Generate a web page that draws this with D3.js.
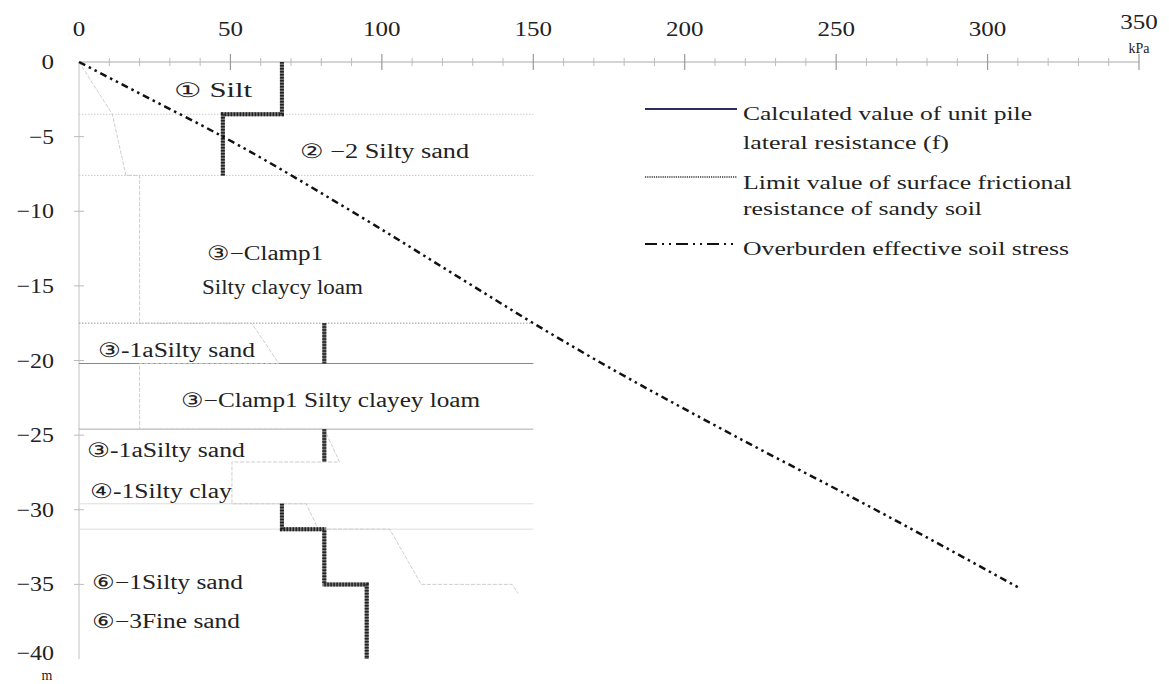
<!DOCTYPE html>
<html>
<head>
<meta charset="utf-8">
<script src="https://cdn.jsdelivr.net/npm/d3@7"></script>
<style>
  body { margin: 0; background: #fff; }
  svg { display: block; }
  text { font-family: "Liberation Serif", "Times New Roman", serif; fill: #222; }
</style>
</head>
<body>
<svg id="chart" width="1169" height="684"></svg>
<script>
// ---- data ----
const xTicks = [0, 50, 100, 150, 200, 250, 300, 350];           // kPa
const xMinorTicks = [10, 20, 30, 40, 60, 70, 80, 90, 110, 120, 130, 140, 160, 170, 180, 190,
                     210, 220, 230, 240, 260, 270, 280, 290, 310, 320, 330, 340];
const yTicks = [0, -5, -10, -15, -20, -25, -30, -35, -40];       // m

// soil layer boundaries (m)
const layerBoundaries = [-3.5, -7.6, -17.5, -20.2, -24.6, -29.6, -31.3];

// overburden effective soil stress
const stressDepth = [0, -2, -5, -10, -15, -17.5, -20, -25, -30, -35.3];
const stressValue = [0, 19, 47.5, 90, 130, 150, 171, 216, 263, 311];

// limit value of surface frictional resistance of sandy soil, per sand layer: [kPa, m]
const limitRuns = [
  [[67, 0], [67, -3.5], [47.5, -3.5], [47.5, -7.6]],
  [[81, -17.5], [81, -20.2]],
  [[81, -24.6], [81, -26.8]],
  [[67, -29.6], [67, -31.3], [81, -31.3], [81, -35], [95, -35], [95, -40]]
];

// calculated value of unit pile lateral resistance f: [kPa, m]
const calcPoints = [
  [0, 0], [11, -3.5], [15.5, -7.6], [20, -7.6], [20, -17.5], [57, -17.5], [66, -20.2],
  [20, -20.2], [20, -24.6], [81, -24.6], [86, -26.8], [50.5, -26.8], [50.5, -29.6],
  [75, -29.6], [79, -31.3], [102.6, -31.3], [113, -35], [143, -35], [145, -35.6]
];

// soil layer names and their anchors [kPa, m]
const layerNames = [
  "① Silt", "② −2 Silty sand", "③−Clamp1", "Silty claycy loam", "③-1aSilty sand",
  "③−Clamp1 Silty clayey loam", "③-1aSilty sand", "④-1Silty clay", "⑥−1Silty sand", "⑥−3Fine sand"
];
const layerNameAt = [
  [31.4, -1.9], [73, -5.97], [42.3, -12.8], [40.6, -15.1], [6.3, -19.3],
  [33.7, -22.65], [2.6, -26.0], [3.6, -28.75], [4.3, -34.85], [4.3, -37.45]
];

const legendLabels = [
  ["Calculated value of unit pile", "lateral resistance (f)"],
  ["Limit value of surface frictional", "resistance of sandy soil"],
  ["Overburden effective soil stress"]
];

// ---- layout ----
const svg = d3.select("#chart");
const x = d3.scaleLinear().domain([0, 350]).range([79, 1139]);
const y = d3.scaleLinear().domain([0, -40]).range([62, 659]);
const xMax = 150; // layer lines run to this stress

// text widths of the printed labels (px)
const layerNameWidth = [78, 169, 116, 161, 157, 299, 158, 142, 151, 148];
const legendWidth = [[289, 206], [329, 239], [326]];

// ---- top axis ----
const axisG = svg.append("g").attr("transform", `translate(0,${y(0)})`);
axisG.append("line").attr("x1", x(0)).attr("x2", x(350)).attr("y1", 0).attr("y2", 0)
  .attr("stroke", "#aaa").attr("stroke-width", 1.2);
axisG.selectAll("line.minor").data(xMinorTicks).join("line")
  .attr("class", "minor")
  .attr("x1", d => x(d)).attr("x2", d => x(d)).attr("y1", -4).attr("y2", 4)
  .attr("stroke", "#bbb").attr("stroke-width", 1);
axisG.selectAll("line.major").data(xTicks.filter(d => d > 0)).join("line")
  .attr("class", "major")
  .attr("x1", d => x(d)).attr("x2", d => x(d)).attr("y1", -8).attr("y2", 8)
  .attr("stroke", "#999").attr("stroke-width", 1.2);
axisG.selectAll("text.xl").data(xTicks).join("text")
  .attr("class", "xl")
  .attr("x", d => x(d)).attr("y", d => d === 350 ? -40 : -33)
  .attr("text-anchor", "middle").attr("dominant-baseline", "central")
  .attr("font-size", 21)
  .attr("textLength", d => String(d).length * 12.5).attr("lengthAdjust", "spacingAndGlyphs")
  .text(d => d);
svg.append("text").attr("x", x(350)).attr("y", 48)
  .attr("text-anchor", "middle").attr("dominant-baseline", "central")
  .attr("font-size", 14).text("kPa");

// ---- left axis ----
const yAxisG = svg.append("g");
yAxisG.append("line").attr("x1", x(0)).attr("x2", x(0)).attr("y1", y(0)).attr("y2", y(-40))
  .attr("stroke", "#ccc").attr("stroke-width", 1.2);
yAxisG.selectAll("line.yt").data(yTicks.filter(d => d < 0 && d > -40)).join("line")
  .attr("class", "yt")
  .attr("x1", x(0) - 5).attr("x2", x(0) + 5).attr("y1", d => y(d)).attr("y2", d => y(d))
  .attr("stroke", "#bbb");
yAxisG.selectAll("text.yl").data(yTicks).join("text")
  .attr("class", "yl")
  .attr("x", 54).attr("y", d => y(d) - (d === -40 ? 6 : 0))
  .attr("text-anchor", "end").attr("dominant-baseline", "central")
  .attr("font-size", 21)
  .attr("textLength", d => d3.format("")(d).length * 12.5).attr("lengthAdjust", "spacingAndGlyphs")
  .text(d => d3.format("")(d));
svg.append("text").attr("x", 47).attr("y", 675)
  .attr("text-anchor", "middle").attr("dominant-baseline", "central")
  .attr("font-size", 14).text("m");

// ---- layer boundaries ----
const boundaryStyle = [
  { c: "#ccc", d: "1.5,1.5", w: 1 },
  { c: "#ccc", d: "1.5,1.5", w: 1 },
  { c: "#999", d: "1.5,1.5", w: 1 },
  { c: "#888", d: null, w: 1 },
  { c: "#aaa", d: null, w: 1 },
  { c: "#ddd", d: null, w: 1 },
  { c: "#ddd", d: null, w: 1 }
];
svg.append("g").selectAll("line").data(layerBoundaries).join("line")
  .attr("x1", x(0)).attr("x2", x(xMax))
  .attr("y1", d => y(d)).attr("y2", d => y(d))
  .attr("stroke", (d, i) => boundaryStyle[i].c)
  .attr("stroke-width", (d, i) => boundaryStyle[i].w)
  .attr("stroke-dasharray", (d, i) => boundaryStyle[i].d);

const line = d3.line().x(d => x(d[0])).y(d => y(d[1]));

// ---- calculated unit pile lateral resistance ----
svg.append("path").datum(calcPoints)
  .attr("d", line).attr("fill", "none")
  .attr("stroke", "#c8c8c8").attr("stroke-width", 0.9)
  .attr("stroke-dasharray", "4,1.5");

// ---- limit values for sandy soil ----
const limitG = svg.append("g");
limitG.selectAll("path.base").data(limitRuns).join("path")
  .attr("class", "base").attr("d", line).attr("fill", "none")
  .attr("stroke", "#777").attr("stroke-width", 4);
limitG.selectAll("path.top").data(limitRuns).join("path")
  .attr("class", "top").attr("d", line).attr("fill", "none")
  .attr("stroke", "#222").attr("stroke-width", 4).attr("stroke-dasharray", "1.5,1.5");

// ---- overburden effective soil stress ----
svg.append("path").datum(stressValue.map((v, i) => [v, stressDepth[i]]))
  .attr("d", d3.line().x(d => x(d[0])).y(d => y(d[1])).curve(d3.curveMonotoneY))
  .attr("fill", "none").attr("stroke", "#111").attr("stroke-width", 2.5)
  .attr("stroke-dasharray", "7,4,2.5,4,2.5,4");

// ---- layer names ----
svg.append("g").selectAll("text").data(layerNames).join("text")
  .attr("x", (d, i) => x(layerNameAt[i][0]))
  .attr("y", (d, i) => y(layerNameAt[i][1]))
  .attr("dominant-baseline", "central")
  .attr("font-size", 20)
  .attr("textLength", (d, i) => layerNameWidth[i]).attr("lengthAdjust", "spacingAndGlyphs")
  .text(d => d);

// ---- legend ----
const legend = svg.append("g");
const legendRowY = [109, 177, 244];
const legendTextY = [[113, 142], [182, 208], [248]];
const sample = (g, i) => {
  const ln = g.append("line").attr("x1", 645).attr("x2", 737)
    .attr("y1", legendRowY[i]).attr("y2", legendRowY[i]).attr("fill", "none");
  if (i === 0) ln.attr("stroke", "#2e2e5e").attr("stroke-width", 2);
  if (i === 1) ln.attr("stroke", "#333").attr("stroke-width", 1.6).attr("stroke-dasharray", "1.2,1");
  if (i === 2) ln.attr("stroke", "#111").attr("stroke-width", 2).attr("stroke-dasharray", "12,5,2,5,2,5");
};
legendLabels.forEach((lines, i) => {
  sample(legend, i);
  lines.forEach((t, j) => {
    legend.append("text")
      .attr("x", 743).attr("y", legendTextY[i][j])
      .attr("dominant-baseline", "central")
      .attr("font-size", 19)
      .attr("textLength", legendWidth[i][j]).attr("lengthAdjust", "spacingAndGlyphs")
      .text(t);
  });
});
</script>
</body>
</html>
